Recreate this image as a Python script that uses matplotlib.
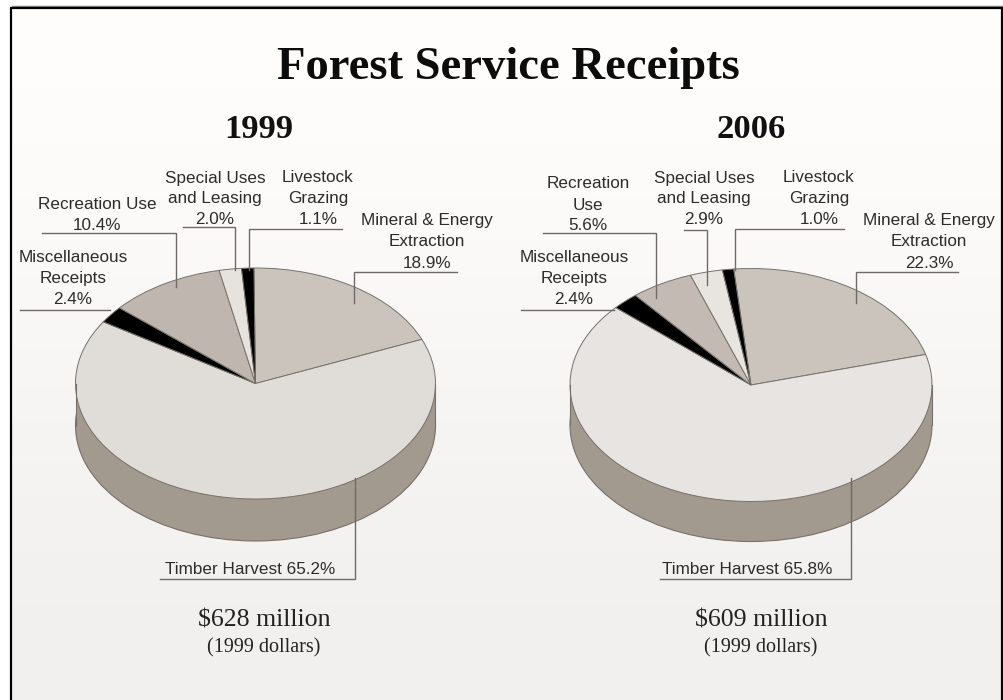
import numpy as np
import matplotlib
matplotlib.use("Agg")
import matplotlib.pyplot as plt
from matplotlib.patches import Circle, Rectangle

W, H = 1004, 700

title = "Forest Service Receipts"
years = ["1999", "2006"]
categories = ["Mineral & Energy\nExtraction", "Timber Harvest", "Miscellaneous\nReceipts",
              "Recreation Use", "Special Uses\nand Leasing", "Livestock\nGrazing"]
values_1999 = [18.9, 65.2, 2.4, 10.4, 2.0, 1.1]
values_2006 = [22.3, 65.8, 2.4, 5.6, 2.9, 1.0]
totals = ["$628 million", "$609 million"]
basis = "(1999 dollars)"

slice_colors_1999 = ["#cbc4bd", "#e0dcd8", "#000000", "#bfb7af", "#e6e2de", "#000000"]
slice_colors_2006 = ["#cbc4bd", "#e8e4e1", "#000000", "#c3bbb3", "#e8e4e0", "#000000"]
side_color = "#a2998f"
edge = "#77716b"
text_color = "#2e2c2a"
line_color = "#6e6a66"

fig = plt.figure(figsize=(W / 100, H / 100), dpi=100, facecolor="white")


def rect(l, t, r, b):
    return [l / W, 1 - b / H, (r - l) / W, (b - t) / H]


# background and frame
bg = fig.add_axes([0, 0, 1, 1], zorder=0)
bg.set_xlim(0, W); bg.set_ylim(H, 0); bg.axis("off")
grad = np.array([[1.0], [0.99], [0.975], [0.96], [0.95]])
rgb = np.dstack([grad, grad * 0.993, grad * 0.985])
bg.imshow(rgb, extent=(12, 1002, 700, 8), aspect="auto", interpolation="bilinear", zorder=0)
bg.set_xlim(0, W); bg.set_ylim(H, 0)
bg.plot([11.5, 11.5, 1002, 1002], [700, 7.5, 7.5, 700], color="black", lw=1.6, zorder=2,
        solid_joinstyle="miter")
bg.plot([12, 1003], [6, 6], color="#888888", lw=1, zorder=1)


def draw_pie(vals, colors, cx, cy, rx, ry, depth, start):
    ax = fig.add_axes(rect(cx - rx, cy - ry, cx + rx, cy + ry + depth), zorder=1)
    d = depth / ry
    ax.add_patch(Circle((0, -d), 1, fc=side_color, ec=edge, lw=0.8))
    ax.add_patch(Rectangle((-1, -d), 2, d, fc=side_color, ec="none"))
    ax.plot([-1, -1], [-d, 0], color=edge, lw=0.8)
    ax.plot([1, 1], [-d, 0], color=edge, lw=0.8)
    ax.pie(vals, colors=colors, startangle=start, counterclock=False, radius=1,
           wedgeprops=dict(edgecolor=edge, linewidth=0.7))
    ax.set_aspect("auto")
    ax.set_xlim(-1, 1)
    ax.set_ylim(-1 - d, 1)
    ax.axis("off")
    for a in ax.patches:
        a.set_clip_on(False)
    for a in ax.lines:
        a.set_clip_on(False)


draw_pie(values_1999, slice_colors_1999, 255.5, 383.5, 180, 115.5, 42, 90.5)
draw_pie(values_2006, slice_colors_2006, 751, 385, 181, 116.5, 40, 95.5)

# overlay: text and leader lines in pixel coordinates
ov = fig.add_axes([0, 0, 1, 1], zorder=3)
ov.set_xlim(0, W); ov.set_ylim(H, 0); ov.axis("off"); ov.patch.set_alpha(0)

SANS = "Liberation Sans"
SERIF = "Liberation Serif"
FS = 12.3


def leader(xs, ys):
    ov.plot(xs, ys, color=line_color, lw=1.0, solid_joinstyle="miter")


def label(x, y, s):
    ov.text(x, y, s, ha="center", va="center", family=SANS, fontsize=FS, color=text_color,
            linespacing=1.5)


ov.text(508, 79, title, ha="center", va="baseline", family=SERIF, weight="bold", fontsize=33.6, color="#0c0c0c")
ov.text(259, 138, years[0], ha="center", va="baseline", family=SERIF, weight="bold", fontsize=24.8, color="#111111")
ov.text(751, 138, years[1], ha="center", va="baseline", family=SERIF, weight="bold", fontsize=24.8, color="#111111")

# 1999 labels
label(427, 242, f"{categories[0]}\n{values_1999[0]}%")
label(250, 570, f"{categories[1]} {values_1999[1]}%")
label(73, 278, f"{categories[2]}\n{values_1999[2]}%")
label(97, 215, f"{categories[3]}\n{values_1999[3]}%")
label(215, 199, f"{categories[4]}\n{values_1999[4]}%")
label(318, 199, f"{categories[5]}\n{values_1999[5]}%")

# 2006 labels
label(929, 242, f"{categories[0]}\n{values_2006[0]}%")
label(747, 569, f"{categories[1]} {values_2006[1]}%")
label(574, 278, f"{categories[2]}\n{values_2006[2]}%")
label(588, 205, f"Recreation\nUse\n{values_2006[3]}%")
label(704, 199, f"{categories[4]}\n{values_2006[4]}%")
label(819, 199, f"{categories[5]}\n{values_2006[5]}%")

# leaders 1999
leader([457, 354, 354], [272, 272, 303])
leader([160, 355, 355], [579, 579, 478])
leader([342, 249, 249], [229, 229, 270])
leader([183, 235, 235], [227, 227, 270])
leader([42, 176, 176], [233, 233, 287])
leader([20, 110], [310, 310])

# leaders 2006
leader([958, 856, 856], [272, 272, 303])
leader([660, 851, 851], [579, 579, 478])
leader([844, 735, 735], [229, 229, 270])
leader([684, 707, 707], [230, 230, 285])
leader([543, 656, 656], [233, 233, 298])
leader([521, 614], [310, 310])

for x, t in zip([264, 761], totals):
    ov.text(x, 627, t.replace("$", r"\$"), ha="center", va="baseline", family=SERIF, fontsize=18.6, color="#222222")
    ov.text(x, 652, basis, ha="center", va="baseline", family=SERIF, fontsize=14.5, color="#222222")

fig.savefig("out.png", dpi=100, facecolor="white")
